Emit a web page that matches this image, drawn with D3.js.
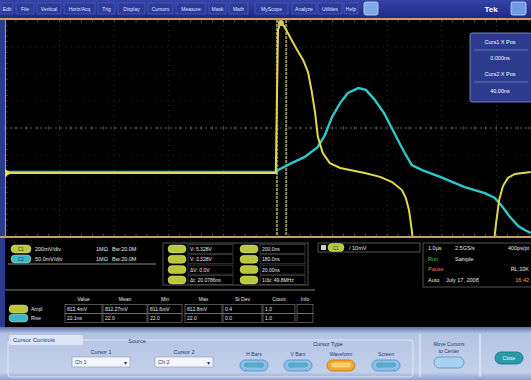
<!DOCTYPE html>
<html>
<head>
<meta charset="utf-8">
<script src="https://cdn.jsdelivr.net/npm/d3@7"></script>
<style>
  body { margin: 0; background: #000; }
  svg { display: block; font-family: "Liberation Sans", Arial, sans-serif; }
</style>
</head>
<body>
<svg id="scope" width="531" height="380"></svg>
<script>
// trace data, in screen divisions (x: 0..10, y: -4..4)
const ch1Time = [0, 4.96, 4.98, 5.0, 5.04, 5.11, 5.18, 5.33, 5.46, 5.55, 5.62, 5.68, 5.73, 5.82, 5.95, 6.14, 6.59, 6.87, 7.09, 7.27, 7.34, 7.40, 7.45, 7.47,
                 null,
                 8.96, 8.99, 9.05, 9.12, 9.21, 9.34, 9.63];
const ch1Volts = [-1.67, -1.67, 1.04, 3.63, 3.89, 3.78, 3.52, 2.96, 2.52, 2.07, 1.33, 0.56, -0.33, -0.93, -1.30, -1.48, -1.67, -1.81, -2.00, -2.30, -2.59, -3.04, -3.78, -4.15,
                  null,
                  -4.15, -3.59, -2.67, -2.15, -1.85, -1.70, -1.63];
const ch2Time = [0, 4.98, 5.0, 5.22, 5.49, 5.73, 5.86, 5.99, 6.14, 6.28, 6.47, 6.61, 6.76, 6.94, 7.12, 7.31, 7.45, 7.64, 7.97, 8.42, 8.79, 8.97, 9.10, 9.25, 9.40, 9.52, 9.63];
const ch2Volts = [-1.63, -1.63, -1.56, -1.33, -1.07, -0.70, -0.26, 0.41, 0.93, 1.30, 1.48, 1.41, 1.07, 0.56, -0.15, -0.89, -1.37, -1.56, -1.81, -2.19, -2.41, -2.59, -2.89, -3.30, -3.63, -3.78, -3.89];
const cursorPos = [4.98, 5.15];

const menuItems = ["Edit", "File", "Vertical", "Horiz/Acq", "Trig", "Display", "Cursors", "Measure", "Mask", "Math", "MyScope", "Analyze", "Utilities", "Help"];
const menuX = [1, 16, 37, 64, 98, 118, 148, 176, 209, 229, 255, 292, 318, 344];
const menuW = [12, 18, 24, 31, 17, 27, 25, 30, 17, 19, 33, 24, 24, 14];

const chanRows = [["200mV/div", "1MΩ", "Bᴡ:20.0M"], ["50.0mV/div", "1MΩ", "Bᴡ:20.0M"]];
const cursorReadA = ["V: 5.328V", "V: 3.328V", "ΔV: 0.0V", "Δt: 20.0786ns"];
const cursorReadB = ["200.0ns", "180.0ns", "20.00ns", "1/Δt: 49.8MHz"];
const acqRows = [["1.0μs", "2.5GS/s", "400ps/pt"], ["Run", "Sample", ""], ["Pause", "", "RL:10K"], ["Auto", "July 17, 2008", "16:42"]];
const measHeader = ["Value", "Mean", "Min", "Max", "St Dev", "Count", "Info"];
const measNames = ["Ampl", "Rise"];
const measValues = [["812.4mV", "812.27mV", "811.6mV", "812.8mV", "0.4", "1.0", ""],
                    ["22.1ns", "22.0", "22.0", "22.0", "0.0", "1.0", ""]];
const cursTypes = ["H Bars", "V Bars", "Waveform", "Screen"];

const svg = d3.select("#scope");

const x = d3.scaleLinear().domain([0, 10]).range([5, 551]);
const y = d3.scaleLinear().domain([-4, 4]).range([236, 20]);

// background pieces
svg.append("rect").attr("width", 531).attr("height", 380).attr("fill", "#000");
svg.append("rect").attr("x", 0).attr("y", 0).attr("width", 5).attr("height", 330).attr("fill", "#2a3a8c");

// menu bar
const menuGrad = svg.append("defs").append("linearGradient").attr("id", "menuG").attr("x1", 0).attr("x2", 0).attr("y1", 0).attr("y2", 1);
menuGrad.append("stop").attr("offset", 0).attr("stop-color", "#3543a8");
menuGrad.append("stop").attr("offset", 1).attr("stop-color", "#1d2a86");
svg.append("rect").attr("width", 531).attr("height", 18).attr("fill", "url(#menuG)");

const menu = svg.append("g").selectAll("g").data(menuItems).join("g")
  .attr("transform", (d, i) => `translate(${menuX[i]},3)`);
menu.append("rect").attr("width", (d, i) => menuW[i]).attr("height", 11)
  .attr("fill", "#2c3a9c").attr("stroke", "#5866c0").attr("stroke-width", 0.6);
menu.append("text").attr("x", (d, i) => menuW[i] / 2).attr("y", 8)
  .attr("text-anchor", "middle").attr("font-size", 5).attr("fill", "#dfe4ff").text(d => d);

svg.append("rect").attr("x", 364).attr("y", 2).attr("width", 14).attr("height", 13).attr("rx", 2)
  .attr("fill", "#7fa8e8").attr("stroke", "#c8dcff").attr("stroke-width", 0.8);
svg.append("text").attr("x", 491).attr("y", 12).attr("text-anchor", "middle")
  .attr("font-size", 8).attr("font-weight", "bold").attr("fill", "#fff").text("Tek");
svg.append("rect").attr("x", 511).attr("y", 2).attr("width", 15).attr("height", 13).attr("rx", 2)
  .attr("fill", "#6f9be6").attr("stroke", "#c8dcff").attr("stroke-width", 0.8);

// graticule
const grat = svg.append("g");
svg.append("defs").append("clipPath").attr("id", "gclip")
  .append("rect").attr("x", 5).attr("y", 20).attr("width", 526).attr("height", 216);

grat.selectAll(".vgrid").data(d3.range(1, 10)).join("line")
  .attr("x1", d => x(d)).attr("x2", d => x(d)).attr("y1", 20).attr("y2", 236)
  .attr("stroke", "#3a3a3a").attr("stroke-width", 0.8).attr("stroke-dasharray", "1,4");
grat.selectAll(".hgrid").data(d3.range(-3, 4)).join("line")
  .attr("x1", 5).attr("x2", 531).attr("y1", d => y(d)).attr("y2", d => y(d))
  .attr("stroke", d => d === 0 ? "#777" : "#2e2e2e").attr("stroke-width", 0.8)
  .attr("stroke-dasharray", d => d === 0 ? "2,3" : "1,5");

// minor ticks along center line and edges
const minor = d3.range(0, 10, 0.2);
grat.selectAll(".tk").data(minor).join("line")
  .attr("x1", d => x(d)).attr("x2", d => x(d)).attr("y1", y(0) - 1.5).attr("y2", y(0) + 1.5)
  .attr("stroke", "#777").attr("stroke-width", 0.7);
grat.selectAll(".tkt").data(minor).join("line")
  .attr("x1", d => x(d)).attr("x2", d => x(d)).attr("y1", 20).attr("y2", 22.5)
  .attr("stroke", "#666").attr("stroke-width", 0.7);
grat.selectAll(".tkb").data(minor).join("line")
  .attr("x1", d => x(d)).attr("x2", d => x(d)).attr("y1", 233.5).attr("y2", 236)
  .attr("stroke", "#666").attr("stroke-width", 0.7);
grat.selectAll(".tkl").data(d3.range(-4, 4, 0.2)).join("line")
  .attr("x1", 5).attr("x2", 7.5).attr("y1", d => y(d)).attr("y2", d => y(d))
  .attr("stroke", "#666").attr("stroke-width", 0.7);

// frame of graticule
svg.append("line").attr("x1", 0).attr("x2", 531).attr("y1", 19).attr("y2", 19).attr("stroke", "#c8a060").attr("stroke-width", 2);
svg.append("line").attr("x1", 0).attr("x2", 531).attr("y1", 237).attr("y2", 237).attr("stroke", "#c8a060").attr("stroke-width", 2);
svg.append("line").attr("x1", 5.5).attr("x2", 5.5).attr("y1", 19).attr("y2", 237).attr("stroke", "#b89a60").attr("stroke-width", 1);

// cursors
svg.append("g").attr("clip-path", "url(#gclip)").selectAll("line").data(cursorPos).join("line")
  .attr("x1", d => x(d)).attr("x2", d => x(d)).attr("y1", 20).attr("y2", 236)
  .attr("stroke", "#8e8c58").attr("stroke-width", 2).attr("stroke-dasharray", "3,1");

// traces
const line = d3.line()
  .defined(d => d[0] !== null)
  .x(d => x(d[0]))
  .y(d => y(d[1]));

const traces = svg.append("g").attr("clip-path", "url(#gclip)");
traces.append("path").datum(d3.zip(ch2Time, ch2Volts))
  .attr("d", line).attr("fill", "none").attr("stroke", "#2ec8cc").attr("stroke-width", 2.4);
traces.append("path").datum(d3.zip(ch1Time, ch1Volts))
  .attr("d", line).attr("fill", "none").attr("stroke", "#e0d850").attr("stroke-width", 2);

// cursor marker at top and channel marker at left
svg.append("circle").attr("cx", x(cursorPos[0]) + 4).attr("cy", 23).attr("r", 3).attr("fill", "#d8c860");
svg.append("path").attr("d", `M5,${y(-1.67) - 4}L11,${y(-1.67)}L5,${y(-1.67) + 4}Z`).attr("fill", "#e8e040");

// cursor readout box
const cb = svg.append("g").attr("transform", "translate(470,33)");
cb.append("rect").attr("width", 62).attr("height", 69).attr("rx", 2).attr("fill", "#2c3b8e").attr("stroke", "#8a98d0").attr("stroke-width", 0.8);
cb.selectAll("line").data([17, 49]).join("line")
  .attr("x1", 4).attr("x2", 58).attr("y1", d => d).attr("y2", d => d).attr("stroke", "#a8b4e0").attr("stroke-width", 0.5);
cb.selectAll("text").data(["Curs1 X Pos", "0.000ns", "Curs2 X Pos", "40.00ns"]).join("text")
  .attr("x", 30).attr("y", (d, i) => [11, 27, 43, 60][i]).attr("text-anchor", "middle")
  .attr("font-size", 5.5).attr("fill", "#fff").text(d => d);

// badge helper
const badge = (g, bx, by, w, color, label) => {
  g.append("rect").attr("x", bx).attr("y", by - 4).attr("width", w).attr("height", 8).attr("rx", 4)
    .attr("fill", color).attr("stroke", "#f4f4b0").attr("stroke-width", 0.4);
  g.append("text").attr("x", bx + w / 2).attr("y", by + 2).attr("text-anchor", "middle")
    .attr("font-size", 4.5).attr("fill", "#333").text(label);
};
const ylw = "#b8c83c", cyn = "#3ab8c8";

// channel readouts
const rd = svg.append("g").attr("font-size", 5.5).attr("fill", "#e8e8e8");
chanRows.forEach((r, i) => {
  const ry = 249 + i * 10;
  badge(rd, 11, ry, 20, i === 0 ? ylw : cyn, i === 0 ? "C1" : "C2");
  rd.append("text").attr("x", 35).attr("y", ry + 2).text(r[0]);
  rd.append("text").attr("x", 96).attr("y", ry + 2).text(r[1]);
  rd.append("text").attr("x", 112).attr("y", ry + 2).text(r[2]);
});
rd.append("line").attr("x1", 8).attr("x2", 156).attr("y1", 264).attr("y2", 264).attr("stroke", "#aaa").attr("stroke-width", 0.8);

// cursor value readouts
rd.append("rect").attr("x", 163).attr("y", 243).attr("width", 145).attr("height", 42).attr("fill", "none").attr("stroke", "#666").attr("stroke-width", 0.8);
[cursorReadA, cursorReadB].forEach((col, c) => {
  col.forEach((v, i) => {
    const ry = 249 + i * 10.3;
    const bx = c === 0 ? 168 : 240;
    badge(rd, bx, ry, 18, ylw, "");
    rd.append("rect").attr("x", bx + 20).attr("y", ry - 4.5).attr("width", 45).attr("height", 9)
      .attr("fill", "none").attr("stroke", "#555").attr("stroke-width", 0.6);
    rd.append("text").attr("x", bx + 22).attr("y", ry + 2).attr("font-size", 5).text(v);
  });
});

// trigger readout
rd.append("rect").attr("x", 318).attr("y", 243).attr("width", 102).attr("height", 9).attr("fill", "none").attr("stroke", "#666").attr("stroke-width", 0.8);
rd.append("rect").attr("x", 321).attr("y", 245).attr("width", 5).attr("height", 5).attr("fill", "#ccc");
badge(rd, 328, 247.5, 16, ylw, "C1");
rd.append("text").attr("x", 349).attr("y", 249.5).attr("font-size", 5.5).text("/ 10mV");

// acquisition readout
rd.append("rect").attr("x", 423).attr("y", 243).attr("width", 110).attr("height", 44).attr("fill", "none").attr("stroke", "#666").attr("stroke-width", 0.8);
acqRows.forEach((r, i) => {
  const ry = 250 + i * 10.5;
  rd.append("text").attr("x", 428).attr("y", ry).attr("fill", i === 1 ? "#40d040" : i === 2 ? "#f07070" : "#e8e8e8").text(r[0]);
  rd.append("text").attr("x", i === 3 ? 446 : 455).attr("y", ry).text(r[1]);
  rd.append("text").attr("x", 529).attr("y", ry).attr("text-anchor", "end")
    .attr("fill", i === 3 ? "#f0a040" : "#e8e8e8").text(r[2]);
});

// measurement table
const colX = [65, 103, 148, 185, 223, 263, 297];
const colW = [37, 44, 34, 37, 39, 32, 16];
rd.append("line").attr("x1", 5).attr("x2", 315).attr("y1", 290).attr("y2", 290).attr("stroke", "#555").attr("stroke-width", 1.5);
rd.selectAll(".mh").data(measHeader).join("text")
  .attr("x", (d, i) => colX[i] + colW[i] / 2).attr("y", 301).attr("text-anchor", "middle").attr("font-size", 5).text(d => d);
measNames.forEach((n, r) => {
  const ry = 309 + r * 9;
  badge(rd, 9, ry, 19, r === 0 ? ylw : cyn, "");
  rd.append("text").attr("x", 31).attr("y", ry + 2).attr("font-size", 5).text(n);
  measValues[r].forEach((v, c) => {
    rd.append("rect").attr("x", colX[c]).attr("y", ry - 4.5).attr("width", colW[c]).attr("height", 9)
      .attr("fill", "none").attr("stroke", "#888").attr("stroke-width", 0.6);
    rd.append("text").attr("x", colX[c] + 2).attr("y", ry + 2).attr("font-size", 5).text(v);
  });
});

// bottom control panel
const pg = svg.select("defs").append("linearGradient").attr("id", "panelG").attr("x1", 0).attr("x2", 0).attr("y1", 0).attr("y2", 1);
pg.append("stop").attr("offset", 0).attr("stop-color", "#5c6ea8");
pg.append("stop").attr("offset", 0.12).attr("stop-color", "#b4c4e2");
pg.append("stop").attr("offset", 0.85).attr("stop-color", "#c2d0ea");
pg.append("stop").attr("offset", 1).attr("stop-color", "#8ea2cc");
svg.append("rect").attr("x", 0).attr("y", 327).attr("width", 531).attr("height", 53).attr("fill", "url(#panelG)");

const panel = svg.append("g").attr("font-size", 5.5).attr("fill", "#28387a");
panel.append("rect").attr("x", 8).attr("y", 340).attr("width", 405).attr("height", 37).attr("rx", 3)
  .attr("fill", "none").attr("stroke", "#e8eef8").attr("stroke-width", 0.8);
panel.append("rect").attr("x", 9).attr("y", 335).attr("width", 74).attr("height", 10).attr("rx", 2).attr("fill", "#dce6f6");
panel.append("text").attr("x", 13).attr("y", 342).attr("font-size", 6).text("Cursor Controls");
panel.append("text").attr("x", 137).attr("y", 343).attr("text-anchor", "middle").text("Source");

[["Cursor 1", "Ch 1", 72], ["Cursor 2", "Ch 2", 155]].forEach(d => {
  panel.append("text").attr("x", d[2] + 29).attr("y", 354).attr("text-anchor", "middle").text(d[0]);
  panel.append("rect").attr("x", d[2]).attr("y", 357).attr("width", 58).attr("height", 10)
    .attr("fill", "#f4f6fb").attr("stroke", "#8898c0").attr("stroke-width", 0.6);
  panel.append("text").attr("x", d[2] + 3).attr("y", 364).text(d[1]);
  panel.append("text").attr("x", d[2] + 52).attr("y", 364.5).attr("font-size", 6).text("▾");
});

panel.append("text").attr("x", 328).attr("y", 346).attr("text-anchor", "middle").text("Cursor Type");
const btnX = [254, 298, 341, 386];
cursTypes.forEach((t, i) => {
  panel.append("text").attr("x", btnX[i]).attr("y", 356).attr("text-anchor", "middle").attr("font-size", 5).text(t);
  panel.append("rect").attr("x", btnX[i] - 14).attr("y", 360).attr("width", 28).attr("height", 11).attr("rx", 5.5)
    .attr("fill", i === 2 ? "#f0a830" : "#8cc0e8").attr("stroke", i === 2 ? "#c07010" : "#4a88c8").attr("stroke-width", 0.8);
  panel.append("rect").attr("x", btnX[i] - 10).attr("y", 362.5).attr("width", 20).attr("height", 5).attr("rx", 2.5)
    .attr("fill", i === 2 ? "#f8d070" : "#5aa8c8");
});

panel.append("line").attr("x1", 420).attr("x2", 420).attr("y1", 334).attr("y2", 377).attr("stroke", "#eef2fa").attr("stroke-width", 1);
panel.append("line").attr("x1", 480).attr("x2", 480).attr("y1", 334).attr("y2", 377).attr("stroke", "#eef2fa").attr("stroke-width", 1);
panel.append("text").attr("x", 449).attr("y", 346).attr("text-anchor", "middle").attr("font-size", 5).text("Move Cursors");
panel.append("text").attr("x", 449).attr("y", 353).attr("text-anchor", "middle").attr("font-size", 5).text("to Center");
panel.append("rect").attr("x", 434).attr("y", 357).attr("width", 30).attr("height", 11).attr("rx", 5.5)
  .attr("fill", "#a8d0f0").attr("stroke", "#5a90c8").attr("stroke-width", 0.8);
panel.append("rect").attr("x", 495).attr("y", 352).attr("width", 28).attr("height", 12).attr("rx", 6)
  .attr("fill", "#2a9aa8").attr("stroke", "#14707c").attr("stroke-width", 0.8);
panel.append("text").attr("x", 509).attr("y", 360).attr("text-anchor", "middle").attr("font-size", 5).attr("fill", "#e8ffff").text("Close");
</script>
</body>
</html>
